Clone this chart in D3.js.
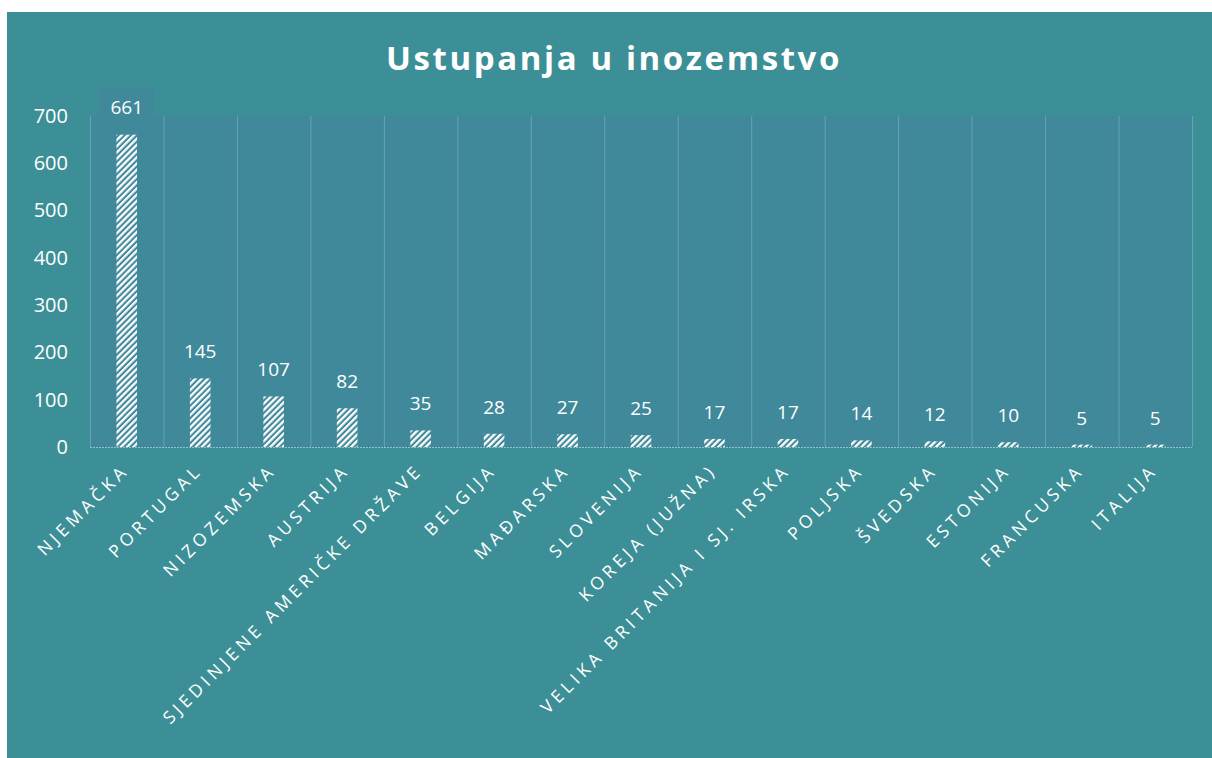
<!DOCTYPE html>
<html>
<head>
<meta charset="utf-8">
<script src="https://cdn.jsdelivr.net/npm/d3@7"></script>
<style>
  body { margin: 0; background: #fff; }
  svg { display: block; }
</style>
</head>
<body>
<div id="chart"></div>
<script>
const titleText = 'Ustupanja u inozemstvo'
const countries = [
  'NJEMAČKA', 'PORTUGAL', 'NIZOZEMSKA', 'AUSTRIJA', 'SJEDINJENE AMERIČKE DRŽAVE',
  'BELGIJA', 'MAĐARSKA', 'SLOVENIJA', 'KOREJA (JUŽNA)', 'VELIKA BRITANIJA I SJ. IRSKA',
  'POLJSKA', 'ŠVEDSKA', 'ESTONIJA', 'FRANCUSKA', 'ITALIJA',
]
const counts = [661, 145, 107, 82, 35, 28, 27, 25, 17, 17, 14, 12, 10, 5, 5]
const yTicks = [0, 100, 200, 300, 400, 500, 600, 700]

const width = 1212
const height = 758
const margin = {top: 116, right: 20, bottom: 311, left: 90}
const outerBg = '#3c8f96'
const plotBg = '#3f899b'
const font = '"Open Sans", "Noto Sans", sans-serif'

const data = countries.map((c, i) => ({name: c, value: counts[i]}))

const svg = d3.select('#chart').append('svg')
  .attr('width', width)
  .attr('height', height)

// hatch pattern for the bars
const defs = svg.append('defs')
defs.append('pattern')
  .attr('id', 'hatch')
  .attr('patternUnits', 'userSpaceOnUse')
  .attr('width', 4.4)
  .attr('height', 4.4)
  .attr('patternTransform', 'rotate(45)')
  .append('rect')
  .attr('x', 0)
  .attr('y', 0)
  .attr('width', 2.3)
  .attr('height', 4.4)
  .attr('fill', '#fff')

// background (scan has a white strip at top / left)
svg.append('rect')
  .attr('x', 7).attr('y', 12)
  .attr('width', width - 7).attr('height', height - 12)
  .attr('fill', outerBg)

const x = d3.scaleBand()
  .domain(countries)
  .range([margin.left, width - margin.right])
  .padding(0)

const y = d3.scaleLinear()
  .domain([0, 700])
  .range([height - margin.bottom, margin.top])

// plot area
svg.append('rect')
  .attr('x', margin.left)
  .attr('y', margin.top)
  .attr('width', width - margin.left - margin.right)
  .attr('height', height - margin.top - margin.bottom)
  .attr('fill', plotBg)

// vertical gridlines at category edges
const edges = countries.map(c => x(c)).concat([x.range()[1]])
svg.append('g')
  .selectAll('line')
  .data(edges)
  .enter().append('line')
  .attr('x1', d => d + 0.5)
  .attr('x2', d => d + 0.5)
  .attr('y1', margin.top)
  .attr('y2', y(0))
  .attr('stroke', 'rgba(255,255,255,0.22)')
  .attr('stroke-width', 1)

// x axis baseline
svg.append('line')
  .attr('x1', margin.left)
  .attr('x2', width - margin.right)
  .attr('y1', y(0) + 0.5)
  .attr('y2', y(0) + 0.5)
  .attr('stroke', 'rgba(255,255,255,0.45)')
  .attr('stroke-dasharray', '2,1')

// y axis labels
const yAxis = svg.append('g')
  .attr('transform', `translate(${margin.left - 22}, 0)`)
  .call(d3.axisLeft(y).tickValues(yTicks).tickSize(0).tickPadding(0))
yAxis.select('.domain').remove()
yAxis.selectAll('text')
  .attr('fill', '#fff')
  .attr('font-family', font)
  .attr('font-size', 20)

const barW = x.bandwidth() * 0.28

// bars
svg.append('g')
  .selectAll('rect')
  .data(data)
  .enter().append('rect')
  .attr('x', d => x(d.name) + (x.bandwidth() - barW) / 2)
  .attr('y', d => y(d.value))
  .attr('width', barW)
  .attr('height', d => y(0) - y(d.value))
  .attr('fill', 'url(#hatch)')

// value labels (the first one sticks out of the plot area, so it gets a box)
const labels = svg.append('g')
labels.selectAll('rect')
  .data(data.filter(d => y(d.value) - 40 < margin.top))
  .enter().append('rect')
  .attr('x', d => x(d.name) + x.bandwidth() / 2 - 27)
  .attr('y', d => y(d.value) - 47)
  .attr('width', 54)
  .attr('height', 47)
  .attr('fill', plotBg)
labels.selectAll('text')
  .data(data)
  .enter().append('text')
  .attr('x', d => x(d.name) + x.bandwidth() / 2)
  .attr('y', d => y(d.value) - 20)
  .attr('text-anchor', 'middle')
  .attr('fill', '#fff')
  .attr('font-family', font)
  .attr('font-size', 19)
  .text(d => d.value)

// rotated category labels
svg.append('g')
  .selectAll('text')
  .data(countries)
  .enter().append('text')
  .attr('transform', d => `translate(${x(d) + x.bandwidth() / 2 - 1}, ${y(0) + 20}) rotate(-45)`)
  .attr('text-anchor', 'end')
  .attr('dy', '0.35em')
  .attr('fill', '#fff')
  .attr('font-family', font)
  .attr('font-size', 17.5)
  .attr('letter-spacing', 4.2)
  .text(d => d)

// title
svg.append('text')
  .attr('x', 614)
  .attr('y', 70)
  .attr('text-anchor', 'middle')
  .attr('fill', '#fff')
  .attr('font-family', font)
  .attr('font-weight', 'bold')
  .attr('font-size', 33)
  .attr('letter-spacing', 2.6)
  .text(titleText)
</script>
</body>
</html>
